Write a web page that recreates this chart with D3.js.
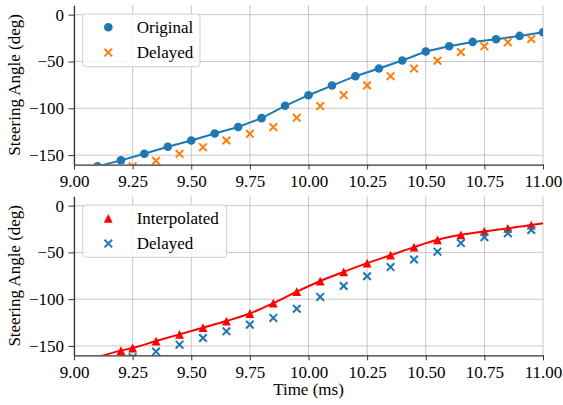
<!DOCTYPE html>
<html>
<head>
<meta charset="utf-8">
<script src="https://cdn.jsdelivr.net/npm/d3@7"></script>
<style>
  html, body { margin: 0; padding: 0; background: #fff; }
  svg { display: block; }
  text { font-family: "Liberation Serif", "Times New Roman", serif; fill: #000; }
</style>
</head>
<body>
<svg id="chart" width="563" height="405"></svg>
<script>
// ---- data ----
const timeOriginal = [9.1, 9.2, 9.3, 9.4, 9.5, 9.6, 9.7, 9.8, 9.9, 10.0, 10.1, 10.2, 10.3, 10.4, 10.5, 10.6, 10.7, 10.8, 10.9, 11.0];
const angleOriginal = [-162, -155.6, -148.5, -141, -134.3, -126.9, -120, -110.5, -97.3, -86, -75.7, -65.7, -57.5, -49, -39.4, -33.7, -29.1, -26.2, -22.7, -18.8];

const timeDelayed = [9.25, 9.35, 9.45, 9.55, 9.65, 9.75, 9.85, 9.95, 10.05, 10.15, 10.25, 10.35, 10.45, 10.55, 10.65, 10.75, 10.85, 10.95];
const angleDelayed = [-162, -156, -148.6, -141.5, -134.4, -127.2, -120, -110.2, -97.6, -85.9, -75.5, -65.7, -57.6, -49.2, -40, -33.8, -29.5, -26];

const timeInterp = [9.2, 9.25, 9.35, 9.45, 9.55, 9.65, 9.75, 9.85, 9.95, 10.05, 10.15, 10.25, 10.35, 10.45, 10.55, 10.65, 10.75, 10.85, 10.95];
const angleInterp = [-155, -152.2, -144.8, -137.6, -130.5, -123.4, -115.3, -104.2, -92, -80.6, -70.8, -61.5, -53, -44.3, -36.5, -31.2, -27.6, -24.3, -20.8];

const xTicks = [9.0, 9.25, 9.5, 9.75, 10.0, 10.25, 10.5, 10.75, 11.0];
const yTicks = [0, -50, -100, -150];
const xDomain = [9, 11];
const yDomain = [-160, 10];

const yLabel = "Steering Angle (deg)";
const xLabel = "Time (ms)";

// ---- styles ----
const C_BLUE = "#1f77b4", C_ORANGE = "#ff7f0e", C_RED = "#ff0000";
const FONT = 17;
const SERIF = '"Liberation Serif", "Times New Roman", serif';

const svg = d3.select("#chart");
const x = d3.scaleLinear().domain(xDomain).range([74, 543]);

const fmtX = d => d3.format(".2f")(d);
const fmtY = d => d3.format("d")(d).replace("-", "\u2212");

function xMarkerPath(s) {
  return `M${-s},${-s}L${s},${s}M${-s},${s}L${s},${-s}`;
}
function triPath(s) {
  return `M0,${-s}L${-s},${s}L${s},${s}Z`;
}

function panel(id, top, bottom, series, legendItems, legendBox) {
  const y = d3.scaleLinear().domain(yDomain).range([bottom, top]);
  const g = svg.append("g");

  const clipId = "clip-" + id;
  svg.append("clipPath").attr("id", clipId)
    .append("rect").attr("x", x.range()[0]).attr("y", top)
    .attr("width", x.range()[1] - x.range()[0]).attr("height", bottom - top);

  // grid
  const grid = g.append("g").attr("stroke", "#c8c8c8").attr("stroke-width", 1);
  xTicks.forEach(t => grid.append("line")
    .attr("x1", x(t)).attr("x2", x(t)).attr("y1", top).attr("y2", bottom));
  yTicks.forEach(t => grid.append("line")
    .attr("x1", x.range()[0]).attr("x2", x.range()[1]).attr("y1", y(t)).attr("y2", y(t)));

  const plot = g.append("g").attr("clip-path", `url(#${clipId})`);
  series(plot, y);

  // axes
  const xAxis = d3.axisBottom(x).tickValues(xTicks).tickFormat(fmtX)
    .tickSizeInner(5).tickSizeOuter(0).tickPadding(5.5);
  const yAxis = d3.axisLeft(y).tickValues(yTicks).tickFormat(fmtY)
    .tickSizeInner(5.5).tickSizeOuter(0).tickPadding(4.5);

  const gx = g.append("g").attr("transform", `translate(0,${bottom})`).call(xAxis);
  const gy = g.append("g").attr("transform", `translate(${x.range()[0]},0)`).call(yAxis);
  [gx, gy].forEach(a => {
    a.attr("font-family", SERIF).attr("font-size", FONT);
    a.select(".domain").attr("stroke", "#333").attr("stroke-width", 1.25);
    a.selectAll(".tick line").attr("stroke", "#333").attr("stroke-width", 1);
    a.selectAll(".tick text").attr("font-size", FONT)
      .style("font-family", SERIF).attr("fill", "#000");
  });

  // y label
  g.append("text")
    .attr("transform", `translate(20,${(top + bottom) / 2}) rotate(-90)`)
    .attr("text-anchor", "middle").attr("font-size", FONT)
    .text(yLabel);

  // legend
  const lg = g.append("g");
  lg.append("rect")
    .attr("x", legendBox.x).attr("y", legendBox.y)
    .attr("width", legendBox.w).attr("height", legendBox.h)
    .attr("rx", 3).attr("ry", 3)
    .attr("fill", "#fff").attr("fill-opacity", 0.85)
    .attr("stroke", "#d0d0d0").attr("stroke-width", 1);
  legendItems.forEach((it, i) => {
    const cy = legendBox.y + 13.3 + i * 25.3;
    const mx = legendBox.x + 25.6;
    it.draw(lg, mx, cy);
    lg.append("text").attr("x", legendBox.x + 54).attr("y", cy + 5.5)
      .attr("font-size", FONT).text(it.label);
  });
  return y;
}

function drawCircle(sel, cx, cy, color) {
  sel.append("circle").attr("cx", cx).attr("cy", cy).attr("r", 4.3).attr("fill", color);
}
function drawX(sel, cx, cy, color) {
  sel.append("path").attr("transform", `translate(${cx},${cy})`)
    .attr("d", xMarkerPath(3.8)).attr("stroke", color).attr("stroke-width", 2)
    .attr("fill", "none");
}
function drawTri(sel, cx, cy, color) {
  sel.append("path").attr("transform", `translate(${cx},${cy})`)
    .attr("d", triPath(4.4)).attr("fill", color);
}

const original = timeOriginal.map((t, i) => ({ t, v: angleOriginal[i] }));
const delayed = timeDelayed.map((t, i) => ({ t, v: angleDelayed[i] }));
const interp = timeInterp.map((t, i) => ({ t, v: angleInterp[i] }));
// smooth interpolated curve: original endpoints + interpolated samples
const interpCurve = [original[0], ...interp, original[original.length - 1]];

// top panel
panel("top", 5.3, 164.5, (plot, y) => {
  const line = d3.line().x(d => x(d.t)).y(d => y(d.v));
  plot.append("path").datum(original).attr("d", line)
    .attr("fill", "none").attr("stroke", C_BLUE).attr("stroke-width", 2);
  original.forEach(d => drawCircle(plot, x(d.t), y(d.v), C_BLUE));
  delayed.forEach(d => drawX(plot, x(d.t), y(d.v), C_ORANGE));
}, [
  { label: "Original", draw: (s, cx, cy) => drawCircle(s, cx, cy, C_BLUE) },
  { label: "Delayed", draw: (s, cx, cy) => drawX(s, cx, cy, C_ORANGE) }
], { x: 82.7, y: 14, w: 117.3, h: 52.7 });

// bottom panel
panel("bot", 196.3, 355.3, (plot, y) => {
  const line = d3.line().x(d => x(d.t)).y(d => y(d.v)).curve(d3.curveMonotoneX);
  plot.append("path").datum(interpCurve).attr("d", line)
    .attr("fill", "none").attr("stroke", C_RED).attr("stroke-width", 2);
  interp.forEach(d => drawTri(plot, x(d.t), y(d.v), C_RED));
  delayed.forEach(d => drawX(plot, x(d.t), y(d.v), C_BLUE));
}, [
  { label: "Interpolated", draw: (s, cx, cy) => drawTri(s, cx, cy, C_RED) },
  { label: "Delayed", draw: (s, cx, cy) => drawX(s, cx, cy, C_BLUE) }
], { x: 82.7, y: 205, w: 144, h: 52.3 });

// x label
svg.append("text")
  .attr("x", (x.range()[0] + x.range()[1]) / 2).attr("y", 395)
  .attr("text-anchor", "middle").attr("font-size", FONT)
  .text(xLabel);
</script>
</body>
</html>
